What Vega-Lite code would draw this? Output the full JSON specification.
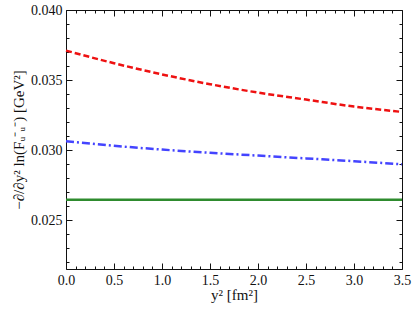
{
  "$schema": "https://vega.github.io/schema/vega-lite/v6.json",
  "width": 336,
  "height": 259,
  "autosize": "none",
  "padding": {"left": 66, "top": 10, "right": 15, "bottom": 41},
  "config": {
    "view": {"stroke": null},
    "font": "Liberation Serif",
    "axis": {"grid": false, "domainColor": "#111", "tickColor": "#111", "labelColor": "#111", "titleColor": "#111", "labelFont": "Liberation Serif", "titleFont": "Liberation Serif", "labelFontSize": 14, "titleFontSize": 15, "titleFontWeight": "normal", "labelFlush": false, "labelOverlap": false}
  },
  "data": {
    "values": [
      {"x": 0.0, "v": 0.0371, "s": "a"}, {"x": 0.5, "v": 0.0362, "s": "a"}, {"x": 1.0, "v": 0.0354, "s": "a"}, {"x": 1.5, "v": 0.0347, "s": "a"},
      {"x": 2.0, "v": 0.0341, "s": "a"}, {"x": 2.5, "v": 0.0336, "s": "a"}, {"x": 3.0, "v": 0.0331, "s": "a"}, {"x": 3.5, "v": 0.03272, "s": "a"},
      {"x": 0.0, "v": 0.03063, "s": "b"}, {"x": 0.5, "v": 0.0303, "s": "b"}, {"x": 1.0, "v": 0.03003, "s": "b"}, {"x": 1.5, "v": 0.0298, "s": "b"},
      {"x": 2.0, "v": 0.0296, "s": "b"}, {"x": 2.5, "v": 0.0294, "s": "b"}, {"x": 3.0, "v": 0.0292, "s": "b"}, {"x": 3.5, "v": 0.02898, "s": "b"},
      {"x": 0.0, "v": 0.02644, "s": "c"}, {"x": 0.5, "v": 0.02644, "s": "c"}, {"x": 1.0, "v": 0.02644, "s": "c"}, {"x": 1.5, "v": 0.02644, "s": "c"},
      {"x": 2.0, "v": 0.02644, "s": "c"}, {"x": 2.5, "v": 0.02644, "s": "c"}, {"x": 3.0, "v": 0.02644, "s": "c"}, {"x": 3.5, "v": 0.02644, "s": "c"}
    ]
  },
  "resolve": {"axis": {"x": "independent", "y": "independent"}},
  "layer": [
    {
      "mark": {"type": "line", "strokeWidth": 2.5, "interpolate": "monotone"},
      "encoding": {
        "x": {"field": "x", "type": "quantitative", "scale": {"domain": [0, 3.5], "nice": false},
          "axis": {"orient": "bottom", "title": "y² [fm²]", "titlePadding": 0, "format": ".1f",
            "values": [0, 0.5, 1, 1.5, 2, 2.5, 3, 3.5], "tickSize": -6, "labelPadding": 10}},
        "y": {"field": "v", "type": "quantitative", "scale": {"domain": [0.0215, 0.040], "nice": false, "zero": false},
          "axis": {"orient": "left", "title": "−∂/∂y² ln(Fᵤ⁻ᵤ⁻) [GeV²]", "titlePadding": 4, "format": ".3f",
            "values": [0.025, 0.030, 0.035, 0.040], "tickSize": -6, "labelPadding": 10}},
        "color": {"field": "s", "type": "nominal", "legend": null,
          "scale": {"domain": ["a", "b", "c"], "range": ["#ee1111", "#4444ff", "#2e8b2e"]}},
        "strokeDash": {"field": "s", "type": "nominal", "legend": null,
          "scale": {"domain": ["a", "b", "c"], "range": [[6, 3], [8, 3, 2, 3], [1, 0]]}}
      }
    },
    {
      "mark": {"type": "line", "opacity": 0},
      "encoding": {
        "x": {"field": "x", "type": "quantitative", "scale": {"domain": [0, 3.5], "nice": false},
          "axis": {"orient": "top", "title": null, "labels": false, "values": [0, 0.5, 1, 1.5, 2, 2.5, 3, 3.5], "tickSize": -6}},
        "y": {"field": "v", "type": "quantitative", "scale": {"domain": [0.0215, 0.040], "nice": false, "zero": false},
          "axis": {"orient": "right", "title": null, "labels": false, "values": [0.025, 0.030, 0.035, 0.040], "tickSize": -6}},
        "detail": {"field": "s"}
      }
    },
    {
      "mark": {"type": "line", "opacity": 0},
      "encoding": {
        "x": {"field": "x", "type": "quantitative", "scale": {"domain": [0, 3.5], "nice": false},
          "axis": {"orient": "bottom", "title": null, "labels": false, "ticks": true, "domainOpacity": 0, "tickSize": -3,
            "values": [0.1,0.2,0.3,0.4,0.6,0.7,0.8,0.9,1.1,1.2,1.3,1.4,1.6,1.7,1.8,1.9,2.1,2.2,2.3,2.4,2.6,2.7,2.8,2.9,3.1,3.2,3.3,3.4]}},
        "y": {"field": "v", "type": "quantitative", "scale": {"domain": [0.0215, 0.040], "nice": false, "zero": false},
          "axis": {"orient": "left", "title": null, "labels": false, "ticks": true, "domainOpacity": 0, "tickSize": -3,
            "values": [0.022,0.023,0.024,0.026,0.027,0.028,0.029,0.031,0.032,0.033,0.034,0.036,0.037,0.038,0.039]}},
        "detail": {"field": "s"}
      }
    },
    {
      "mark": {"type": "line", "opacity": 0},
      "encoding": {
        "x": {"field": "x", "type": "quantitative", "scale": {"domain": [0, 3.5], "nice": false},
          "axis": {"orient": "top", "title": null, "labels": false, "ticks": true, "domainOpacity": 0, "tickSize": -3,
            "values": [0.1,0.2,0.3,0.4,0.6,0.7,0.8,0.9,1.1,1.2,1.3,1.4,1.6,1.7,1.8,1.9,2.1,2.2,2.3,2.4,2.6,2.7,2.8,2.9,3.1,3.2,3.3,3.4]}},
        "y": {"field": "v", "type": "quantitative", "scale": {"domain": [0.0215, 0.040], "nice": false, "zero": false},
          "axis": {"orient": "right", "title": null, "labels": false, "ticks": true, "domainOpacity": 0, "tickSize": -3,
            "values": [0.022,0.023,0.024,0.026,0.027,0.028,0.029,0.031,0.032,0.033,0.034,0.036,0.037,0.038,0.039]}},
        "detail": {"field": "s"}
      }
    }
  ]
}
